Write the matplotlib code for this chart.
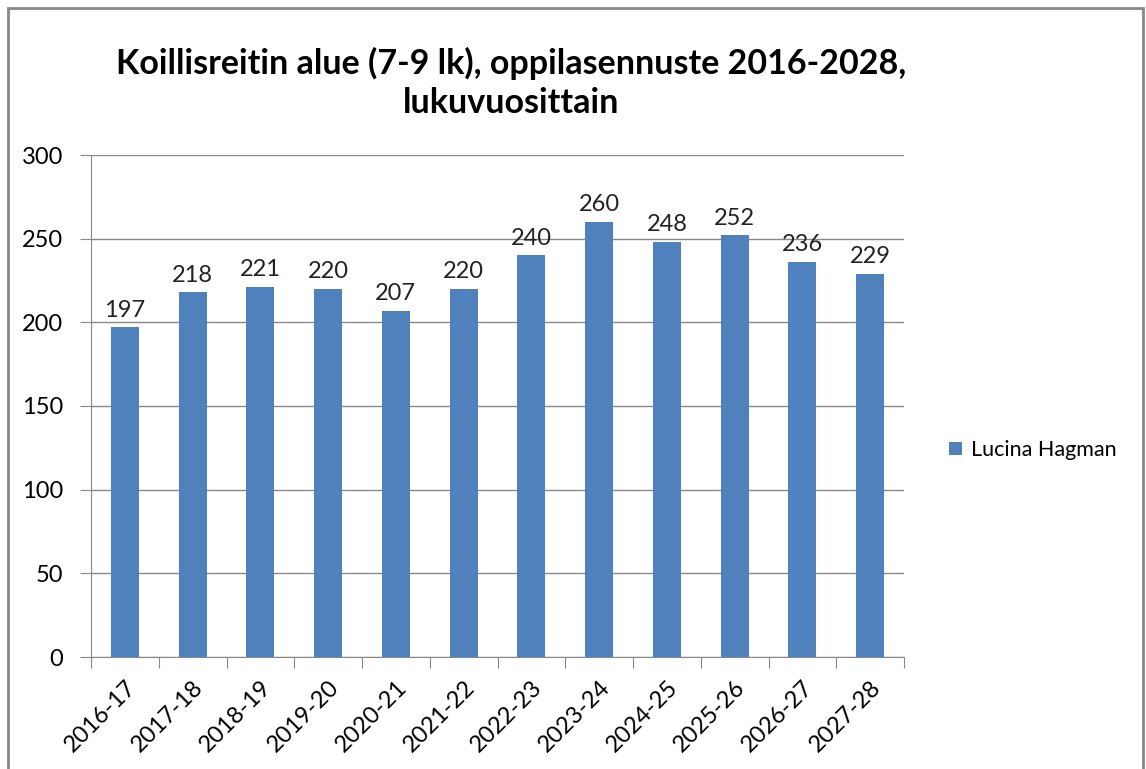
import matplotlib.pyplot as plt
import matplotlib.patches as patches
import numpy as np

years = ['2016-17', '2017-18', '2018-19', '2019-20', '2020-21', '2021-22',
         '2022-23', '2023-24', '2024-25', '2025-26', '2026-27', '2027-28']
oppilaat = [197, 218, 221, 220, 207, 220, 240, 260, 248, 252, 236, 229]
yticks = [0, 50, 100, 150, 200, 250, 300]

plt.rcParams['font.family'] = ['Lato', 'DejaVu Sans']

fig = plt.figure(figsize=(11.46, 7.69), dpi=100)
# chart border
fig.patches.append(patches.Rectangle((8 / 1146, -0.05), 1135 / 1146, 1.05 - 8 / 769,
                                     transform=fig.transFigure, fill=False,
                                     edgecolor='#888888', linewidth=2))

ax = fig.add_axes([91 / 1146, 1 - 657 / 769, 813 / 1146, 502 / 769])
x = np.arange(len(years))
bars = ax.bar(x, oppilaat, width=0.41, color='#4F81BD', label='Lucina Hagman', zorder=3)

for xi, v in zip(x, oppilaat):
    ax.text(xi, v + 4, str(v), ha='center', va='bottom', fontsize=17, color='#222222')

ax.set_xlim(-0.5, len(years) - 0.5)
ax.set_ylim(0, 300)
ax.set_yticks(yticks)
ax.tick_params(axis='y', labelsize=17, length=8, color='#888888', pad=12)
ax.yaxis.grid(True, color='#888888', linewidth=1, zorder=0)

ax.set_xticks(np.arange(-0.5, len(years), 1.0))
ax.set_xticklabels([])
ax.set_xticks(x, minor=True)
ax.set_xticklabels(years, minor=True, rotation=45, ha='right', rotation_mode='anchor',
                   fontsize=17)
ax.tick_params(axis='x', which='major', length=8, color='#888888')
ax.tick_params(axis='x', which='minor', length=0, pad=14)

for s in ['top', 'right']:
    ax.spines[s].set_visible(False)
for s in ['left', 'bottom']:
    ax.spines[s].set_color('#888888')

fig.text(0.446, 1 - 83 / 769, 'Koillisreitin alue (7-9 lk), oppilasennuste 2016-2028,\nlukuvuosittain',
         ha='center', va='center', fontsize=24.5, fontweight='bold', linespacing=1.3)

fig.legend(handles=[bars], labels=['Lucina Hagman'], loc='center left',
           bbox_to_anchor=(930 / 1146, 1 - 450 / 769), frameon=False, fontsize=15.5,
           handlelength=0.6, handleheight=0.6, handletextpad=0.4)

fig.savefig('out.png', dpi=100)
